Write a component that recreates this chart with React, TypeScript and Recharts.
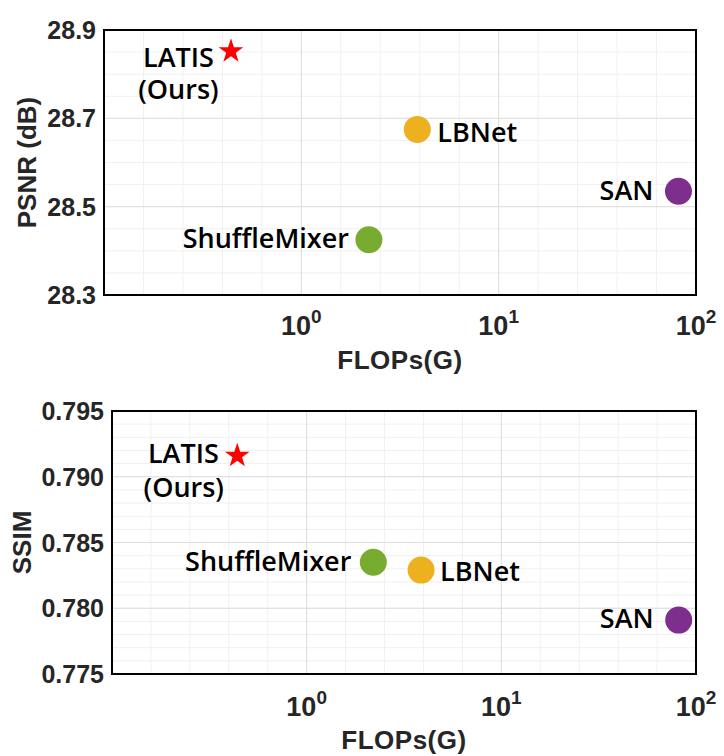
import React from "react";
import {
  ScatterChart,
  Scatter,
  XAxis,
  YAxis,
  CartesianGrid,
  ReferenceArea,
} from "recharts";

const models = ["LATIS", "ShuffleMixer", "LBNet", "SAN"];
const flops = [0.44, 2.2, 3.87, 81.5];
const psnr = [28.852, 28.425, 28.675, 28.535];
const ssim = [0.7916, 0.7835, 0.7829, 0.7791];

const flopsTicks = [1, 10, 100];
const psnrTicks = [28.3, 28.5, 28.7, 28.9];
const ssimTicks = [0.775, 0.78, 0.785, 0.79, 0.795];

// minor grid positions (5 per decade, like the source figure)
const flopsMinor = Array.from({ length: 16 }, (_, i) => Math.pow(10, -1 + i / 5));
const psnrMinor = Array.from({ length: 13 }, (_, i) => 28.3 + i * 0.05);
const ssimMinor = Array.from({ length: 21 }, (_, i) => 0.775 + i * 0.001);

const colors: Record<string, string> = {
  LATIS: "#ff0000",
  ShuffleMixer: "#77ac30",
  LBNet: "#edb120",
  SAN: "#7e2f8e",
};

type Place = { dx: number; dy: number; anchor: "start" | "end" | "middle"; dx2?: number; dy2?: number };

const topPlace: Record<string, Place> = {
  LATIS: { dx: -17, dy: 16, anchor: "end", dx2: -52.5, dy2: 32 },
  ShuffleMixer: { dx: -20, dy: 8, anchor: "end" },
  LBNet: { dx: 20, dy: 13, anchor: "start" },
  SAN: { dx: -25, dy: 9, anchor: "end" },
};

const bottomPlace: Record<string, Place> = {
  LATIS: { dx: -18.5, dy: 7, anchor: "end", dx2: -53.5, dy2: 34 },
  ShuffleMixer: { dx: -22, dy: 9, anchor: "end" },
  LBNet: { dx: 19, dy: 11, anchor: "start" },
  SAN: { dx: -25, dy: 8, anchor: "end" },
};

const labelFont = {
  fontFamily: "'Open Sans', sans-serif",
  fontWeight: 600,
  fontSize: 27,
  fill: "#000",
};

const axisFont = {
  fontFamily: "'Liberation Sans', Arial, sans-serif",
  fontWeight: 700,
  fill: "#262626",
};

function starPath(cx: number, cy: number, R: number, r: number) {
  let d = "";
  for (let i = 0; i < 10; i++) {
    const rad = i % 2 === 0 ? R : r;
    const a = -Math.PI / 2 + (i * Math.PI) / 5;
    d += (i === 0 ? "M" : "L") + (cx + rad * Math.cos(a)) + "," + (cy + rad * Math.sin(a));
  }
  return d + "Z";
}

const makeShape = (place: Record<string, Place>) => (props: any) => {
  const { cx, cy, payload } = props;
  const name = payload.name;
  const p = place[name];
  return (
    <g>
      {name === "LATIS" ? (
        <path d={starPath(cx, cy, 13, 5)} fill={colors[name]} />
      ) : (
        <circle cx={cx} cy={cy} r={13.5} fill={colors[name]} />
      )}
      <text {...labelFont}>
        <tspan x={cx + p.dx} y={cy + p.dy} textAnchor={p.anchor}>
          {name}
        </tspan>
        {p.dx2 !== undefined && (
          <tspan x={cx + p.dx2} dy={p.dy2} textAnchor="middle">
            (Ours)
          </tspan>
        )}
      </text>
    </g>
  );
};

const PowTick = (props: any) => {
  const { x, y, payload, base } = props;
  const exp = Math.round(Math.log10(payload.value));
  return (
    <text x={x} y={y + base} textAnchor="middle" {...axisFont} fontSize={27}>
      10
      <tspan dy={-12} fontSize={19}>
        {exp}
      </tspan>
    </text>
  );
};

const YTick = (props: any) => {
  const { x, y, payload, digits } = props;
  return (
    <text x={x} y={y} dy={9} textAnchor="end" {...axisFont} fontSize={25}>
      {payload.value.toFixed(digits)}
    </text>
  );
};

function Panel({
  values,
  yTicks,
  yMinor,
  digits,
  yTitle,
  place,
  top,
  yWidth,
  xHeight,
  tickBase,
  titleX,
  xTitleOffset,
}: any) {
  const data = models.map((m, i) => ({ name: m, flops: flops[i], v: values[i] }));
  const yDomain = [yTicks[0], yTicks[yTicks.length - 1]];
  const plotTop = top;
  const plotBottom = 378 - xHeight;
  return (
    <div style={{ position: "relative", width: 724, height: 378 }}>
      <ScatterChart width={724} height={378} margin={{ top, right: 28, bottom: 0, left: 0 }}>
        <CartesianGrid
          stroke="#f0f0f0"
          strokeWidth={1}
          horizontalValues={yMinor}
          verticalValues={flopsMinor}
        />
        <CartesianGrid
          stroke="#dedede"
          strokeWidth={1}
          horizontalValues={yTicks}
          verticalValues={flopsTicks}
        />
        <XAxis
          type="number"
          dataKey="flops"
          scale="log"
          domain={[0.1, 100]}
          ticks={flopsTicks}
          allowDataOverflow
          height={xHeight}
          axisLine={false}
          tickLine={false}
          tickSize={0}
          tickMargin={0}
          interval={0}
          tick={<PowTick base={tickBase} />}
        />
        <YAxis
          type="number"
          dataKey="v"
          domain={yDomain}
          ticks={yTicks}
          allowDataOverflow
          width={yWidth}
          axisLine={false}
          tickLine={false}
          tickSize={0}
          tickMargin={yWidth === 104 ? 8 : 8}
          interval={0}
          tick={<YTick digits={digits} />}
        />
        <ReferenceArea
          x1={0.1}
          x2={100}
          y1={yDomain[0]}
          y2={yDomain[1]}
          fill="none"
          stroke="#000"
          strokeWidth={2}
          ifOverflow="visible"
        />
        <Scatter data={data} shape={makeShape(place)} isAnimationActive={false} />
      </ScatterChart>
      <svg
        width={724}
        height={378}
        style={{ position: "absolute", left: 0, top: 0, pointerEvents: "none" }}
      >
        <text
          transform={`translate(${titleX},${(plotTop + plotBottom) / 2}) rotate(-90)`}
          textAnchor="middle"
          {...axisFont}
          fontSize={26}
        >
          {yTitle}
        </text>
        <text
          x={(yWidth + 696) / 2}
          y={378 - xTitleOffset}
          textAnchor="middle"
          {...axisFont}
          fontSize={26}
          letterSpacing={0.5}
        >
          FLOPs(G)
        </text>
      </svg>
    </div>
  );
}

export default function App() {
  return (
    <div style={{ position: "absolute", left: 0, top: 0, width: 724, height: 756, background: "#fff" }}>
      <Panel
        values={psnr}
        yTicks={psnrTicks}
        yMinor={psnrMinor}
        digits={1}
        yTitle="PSNR (dB)"
        place={topPlace}
        top={30}
        yWidth={104}
        xHeight={83}
        tickBase={40}
        titleX={36}
        xTitleOffset={9}
      />
      <Panel
        values={ssim}
        yTicks={ssimTicks}
        yMinor={ssimMinor}
        digits={3}
        yTitle="SSIM"
        place={bottomPlace}
        top={33}
        yWidth={112}
        xHeight={82}
        tickBase={42}
        titleX={31}
        xTitleOffset={7}
      />
    </div>
  );
}
